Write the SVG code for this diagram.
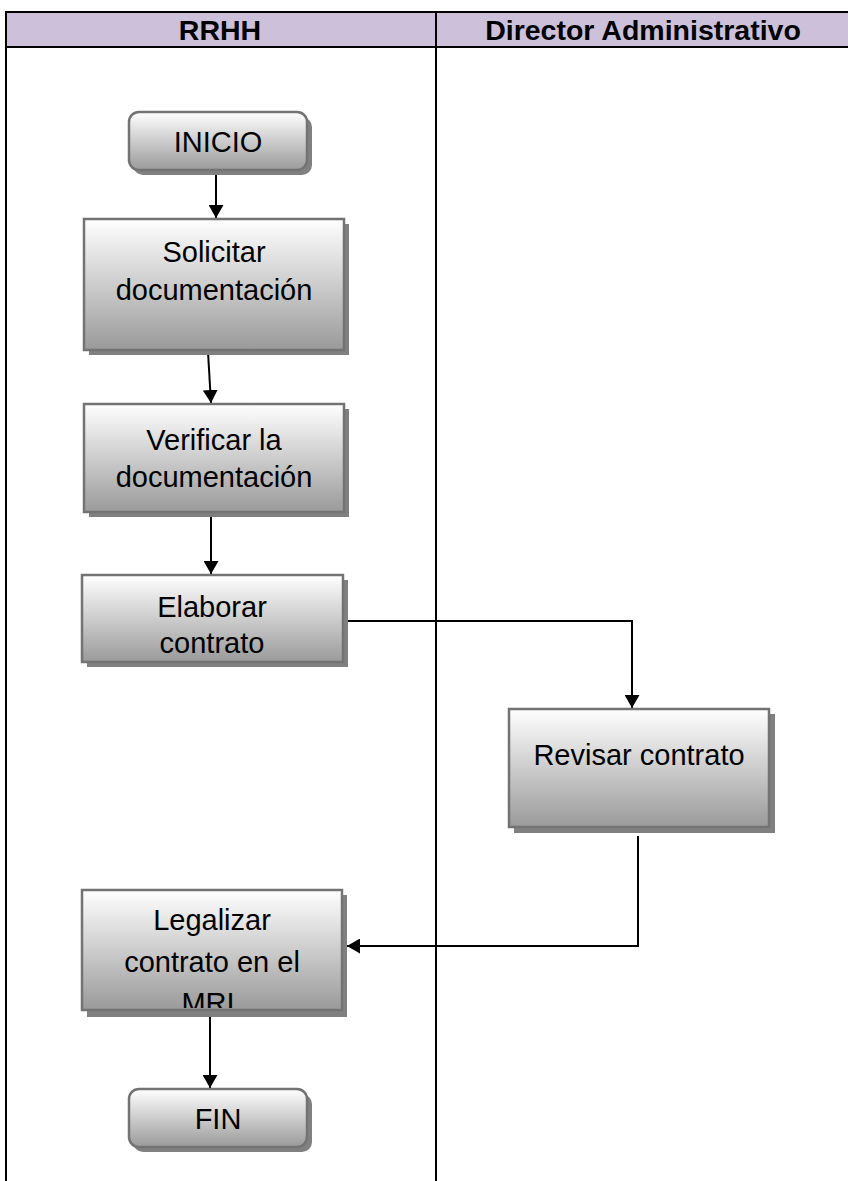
<svg xmlns="http://www.w3.org/2000/svg" width="848" height="1181" viewBox="0 0 848 1181">
  <style>
    .lane { fill: none; stroke: #000; stroke-width: 2; }
    .hdr { fill: #ccc0da; }
    .htxt { font-family: "Liberation Sans", Arial, sans-serif; font-weight: bold; font-size: 28.5px; fill: #000; text-anchor: middle; }
    .box { fill: url(#grad); stroke: #737373; stroke-width: 2.5; }
    .shadow { fill: #808080; }
    .txt { font-family: "Liberation Sans", Arial, sans-serif; font-size: 29px; fill: #000; text-anchor: middle; }
    .conn { fill: none; stroke: #000; stroke-width: 2; }
  </style>
  <defs>
    <linearGradient id="grad" x1="0" y1="0" x2="0" y2="1">
      <stop offset="0" stop-color="#ffffff"/>
      <stop offset="1" stop-color="#9a9a9a"/>
    </linearGradient>
    <marker id="arrow" viewBox="0 0 13 15" refX="13" refY="7.5" markerWidth="13" markerHeight="15" markerUnits="userSpaceOnUse" orient="auto">
      <path d="M0,0 L13,7.5 L0,15 Z" fill="#000"/>
    </marker>
    <clipPath id="clipLegal">
      <rect x="82" y="890" width="262" height="118"/>
    </clipPath>
  </defs>

  <rect width="848" height="1181" fill="#fff"/>

  <!-- swimlane table -->
  <g id="lanes">
    <rect class="hdr" x="6" y="12" width="842" height="35"/>
    <line class="lane" x1="6" y1="12" x2="848" y2="12"/>
    <line class="lane" x1="6" y1="47" x2="848" y2="47"/>
    <line class="lane" x1="6" y1="11" x2="6" y2="1181"/>
    <line class="lane" x1="436" y1="11" x2="436" y2="1181"/>
    <text class="htxt" x="220" y="40">RRHH</text>
    <text class="htxt" x="643" y="40">Director Administrativo</text>
  </g>

  <!-- connectors -->
  <g id="connectors">
    <line class="conn" x1="216" y1="170" x2="216" y2="218" marker-end="url(#arrow)"/>
    <line class="conn" x1="208" y1="352" x2="211" y2="403" marker-end="url(#arrow)"/>
    <line class="conn" x1="211" y1="515" x2="211" y2="574" marker-end="url(#arrow)"/>
    <polyline class="conn" points="347,621 632,621 632,708" marker-end="url(#arrow)"/>
    <polyline class="conn" points="638,836 638,946 347,946" marker-end="url(#arrow)"/>
    <line class="conn" x1="210" y1="1017" x2="210" y2="1088" marker-end="url(#arrow)"/>
  </g>

  <g id="inicio">
    <rect class="shadow" x="133" y="117" width="179" height="58" rx="10"/>
    <rect class="box" x="129" y="112" width="178" height="58" rx="10"/>
    <text class="txt" x="218" y="152">INICIO</text>
  </g>

  <g id="solicitar">
    <rect class="shadow" x="89" y="224" width="260" height="131"/>
    <rect class="box" x="84" y="219" width="260" height="131"/>
    <text class="txt" x="214" y="262">Solicitar</text>
    <text class="txt" x="214" y="300">documentación</text>
  </g>

  <g id="verificar">
    <rect class="shadow" x="89" y="409" width="260" height="108"/>
    <rect class="box" x="84" y="404" width="260" height="108"/>
    <text class="txt" x="214" y="450">Verificar la</text>
    <text class="txt" x="214" y="487">documentación</text>
  </g>

  <g id="elaborar">
    <rect class="shadow" x="87" y="580" width="261" height="87"/>
    <rect class="box" x="82" y="575" width="261" height="87"/>
    <text class="txt" x="212" y="617">Elaborar</text>
    <text class="txt" x="212" y="653">contrato</text>
  </g>

  <g id="revisar">
    <rect class="shadow" x="514" y="714" width="261" height="119"/>
    <rect class="box" x="509" y="709" width="260" height="118"/>
    <text class="txt" x="639" y="765">Revisar contrato</text>
  </g>

  <g id="legalizar">
    <rect class="shadow" x="87" y="895" width="260" height="122"/>
    <rect class="box" x="82" y="890" width="260" height="120"/>
    <text class="txt" x="212" y="930">Legalizar</text>
    <text class="txt" x="212" y="972">contrato en el</text>
    <text class="txt" x="208" y="1013" clip-path="url(#clipLegal)">MRI</text>
  </g>

  <g id="fin">
    <rect class="shadow" x="133" y="1094" width="179" height="58" rx="10"/>
    <rect class="box" x="129" y="1089" width="178" height="58" rx="10"/>
    <text class="txt" x="218" y="1129">FIN</text>
  </g>
</svg>
